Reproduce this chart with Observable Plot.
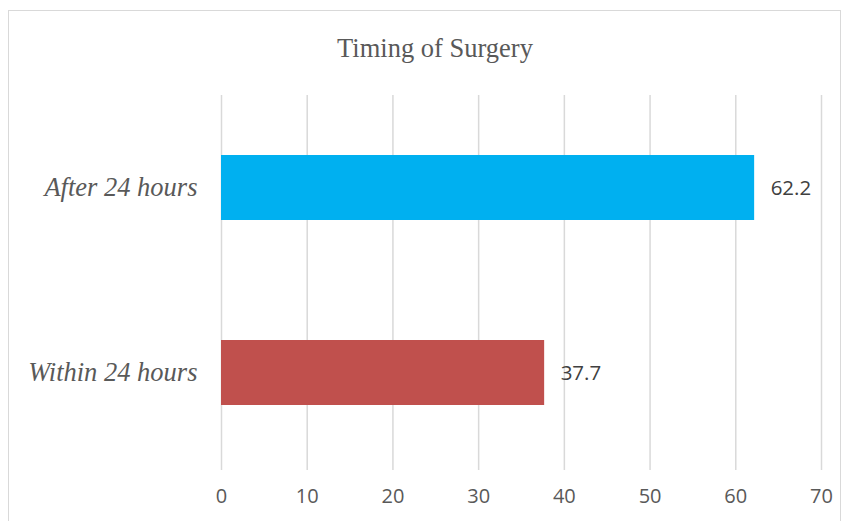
<!DOCTYPE html>
<html>
<head>
<meta charset="utf-8">
<script src="https://cdn.jsdelivr.net/npm/d3@7"></script>
<script src="https://cdn.jsdelivr.net/npm/@observablehq/plot@0.6"></script>
<style>
  html, body { margin: 0; padding: 0; background: #fff; }
  #wrap { position: relative; width: 849px; height: 521px; overflow: hidden; }
  #frame { position: absolute; left: 8px; top: 10px; width: 833px; height: 530px; border: 1.5px solid #d9d9d9; box-sizing: border-box; }
  #title { position: absolute; left: 0; top: 35px; width: 870px; text-align: center; line-height: 1; font-family: "Liberation Serif", "Times New Roman", serif; font-size: 26.5px; color: #595959; }
  #chart { position: absolute; left: 0; top: 0; }
</style>
</head>
<body>
<div id="wrap">
  <div id="frame"></div>
  <div id="chart"></div>
  <div id="title">Timing of Surgery</div>
</div>
<script>
const categories = ["After 24 hours", "Within 24 hours"];
const values = [62.2, 37.7];
const colors = ["#00B0F0", "#C0504D"];
const xTicks = [0, 10, 20, 30, 40, 50, 60, 70];

const data = categories.map((c, i) => ({category: c, value: values[i], color: colors[i]}));

const chart = Plot.plot({
  width: 849,
  height: 521,
  marginLeft: 221,
  marginRight: 28,
  marginTop: 95,
  marginBottom: 51,
  style: {background: "transparent", color: "#595959"},
  x: {domain: [0, 70], ticks: xTicks, grid: false},
  y: {domain: categories, range: [95, 466], paddingInner: 0.646, paddingOuter: 0.323},
  marks: [
    Plot.gridX(xTicks, {stroke: "#d9d9d9", strokeOpacity: 1, strokeWidth: 1.5}),
    Plot.barX(data, {x: "value", y: "category", fill: "color"}),
    Plot.text(data, {x: "value", y: "category", text: d => d.value.toFixed(1), textAnchor: "start", dx: 16, fontSize: 20.5, fill: "#404040", fontFamily: "Open Sans, sans-serif"}),
    Plot.axisX({ticks: xTicks, tickSize: 0, tickPadding: 18, fontSize: 20, fontFamily: "Open Sans, sans-serif", fill: "#595959", label: null}),
    Plot.axisY({tickSize: 0, tickPadding: 24, fontSize: 26.5, fontStyle: "italic", fontFamily: "Liberation Serif, Times New Roman, serif", fill: "#595959", label: null})
  ]
});
document.getElementById("chart").appendChild(chart);
</script>
</body>
</html>
